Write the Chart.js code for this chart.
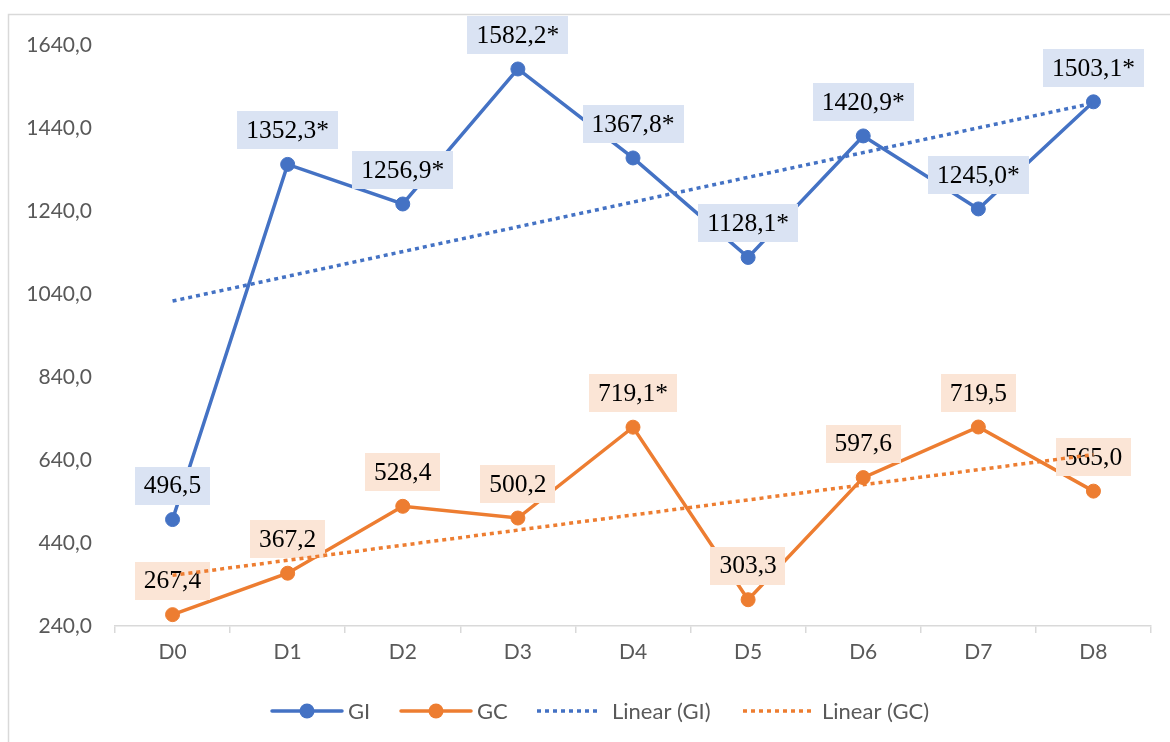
<!DOCTYPE html>
<html>
<head>
<meta charset="utf-8">
<script src="https://cdn.jsdelivr.net/npm/chart.js@4.4.1/dist/chart.umd.min.js"></script>
<style>
  html, body { margin: 0; padding: 0; background: #fff; }
  #wrap { position: relative; width: 1170px; height: 742px; }
</style>
</head>
<body>
<div id="wrap"><canvas id="c" width="1170" height="742"></canvas></div>
<script>
const categories = ['D0', 'D1', 'D2', 'D3', 'D4', 'D5', 'D6', 'D7', 'D8'];
const giValues = [496.5, 1352.3, 1256.9, 1582.2, 1367.8, 1128.1, 1420.9, 1245.0, 1503.1];
const gcValues = [267.4, 367.2, 528.4, 500.2, 719.1, 303.3, 597.6, 719.5, 565.0];
const giLabels = ['496,5', '1352,3*', '1256,9*', '1582,2*', '1367,8*', '1128,1*', '1420,9*', '1245,0*', '1503,1*'];
const gcLabels = ['267,4', '367,2', '528,4', '500,2', '719,1*', '303,3', '597,6', '719,5', '565,0'];
// Trendline endpoints (D0 and D8)
const giTrend = [1023, null, null, null, null, null, null, null, 1500];
const gcTrend = [362, null, null, null, null, null, null, null, 653];
const yTicks = [240, 440, 640, 840, 1040, 1240, 1440, 1640];
const legendNames = ['GI', 'GC', 'Linear (GI)', 'Linear (GC)'];

const BLUE = '#4472C4', ORANGE = '#ED7D31';
const BLUE_FILL = '#DAE3F3', ORANGE_FILL = '#FBE5D6';
const GREY_TXT = '#595959', GREY_LINE = '#D9D9D9';

let labelsDrawn = false;
function drawLabels(chart) {
  const ctx = chart.ctx;
  ctx.save();
  ctx.font = '25.5px "Liberation Serif", "Times New Roman", serif';
  ctx.textAlign = 'center';
  ctx.textBaseline = 'middle';
  const sets = [
    { idx: 0, texts: giLabels, fill: BLUE_FILL },
    { idx: 1, texts: gcLabels, fill: ORANGE_FILL }
  ];
  sets.forEach(s => {
    const meta = chart.getDatasetMeta(s.idx);
    meta.data.forEach((pt, i) => {
      const t = s.texts[i];
      const w = ctx.measureText(t).width + 18;
      const h = 38;
      const cx = pt.x, cy = pt.y - 34;
      ctx.fillStyle = s.fill;
      ctx.fillRect(Math.round(cx - w / 2), Math.round(cy - h / 2), Math.round(w), h);
      ctx.fillStyle = '#000';
      ctx.fillText(t, cx, cy + 1);
    });
  });
  ctx.restore();
}

const labelPlugin = {
  id: 'labelPlugin',
  beforeDatasetsDraw() { labelsDrawn = false; },
  beforeDatasetDraw(chart, args) {
    if (!labelsDrawn && args.index >= 2) { drawLabels(chart); labelsDrawn = true; }
  },
  afterDatasetsDraw(chart) {
    if (!labelsDrawn) { drawLabels(chart); labelsDrawn = true; }
  }
};

const framePlugin = {
  id: 'framePlugin',
  afterDraw(chart) {
    const ctx = chart.ctx;
    ctx.save();
    ctx.strokeStyle = GREY_LINE;
    ctx.lineWidth = 1.5;
    ctx.beginPath();
    ctx.moveTo(8.5, 760);
    ctx.lineTo(8.5, 14.5);
    ctx.lineTo(1180, 14.5);
    ctx.stroke();
    ctx.restore();
  }
};

const legendPlugin = {
  id: 'customLegend',
  afterDraw(chart) {
    const ctx = chart.ctx;
    ctx.save();
    const y = 711;
    ctx.font = '22px Lato, "Open Sans", sans-serif';
    ctx.textBaseline = 'middle';
    ctx.textAlign = 'left';
    const items = [
      { x0: 272, x1: 342, color: BLUE, dash: false, tx: 348 },
      { x0: 401, x1: 471, color: ORANGE, dash: false, tx: 477 },
      { x0: 537, x1: 600, color: BLUE, dash: true, tx: 612 },
      { x0: 743, x1: 813, color: ORANGE, dash: true, tx: 822 }
    ];
    items.forEach((it, i) => {
      ctx.strokeStyle = it.color;
      ctx.lineWidth = 3.5;
      ctx.setLineDash(it.dash ? [4, 4] : []);
      ctx.lineCap = it.dash ? 'butt' : 'round';
      ctx.beginPath();
      ctx.moveTo(it.x0, y);
      ctx.lineTo(it.x1, y);
      ctx.stroke();
      if (!it.dash) {
        ctx.fillStyle = it.color;
        ctx.beginPath();
        ctx.arc((it.x0 + it.x1) / 2, y, 7.5, 0, Math.PI * 2);
        ctx.fill();
      }
      ctx.fillStyle = GREY_TXT;
      ctx.fillText(legendNames[i], it.tx, y + 1);
    });
    ctx.restore();
  }
};

new Chart(document.getElementById('c'), {
  type: 'line',
  data: {
    labels: categories,
    datasets: [
      { label: legendNames[0], data: giValues, borderColor: BLUE, backgroundColor: BLUE, borderWidth: 3.5,
        pointRadius: 7, pointBorderWidth: 1, pointBackgroundColor: BLUE, pointBorderColor: BLUE, tension: 0, order: 1 },
      { label: legendNames[1], data: gcValues, borderColor: ORANGE, backgroundColor: ORANGE, borderWidth: 3.5,
        pointRadius: 7, pointBorderWidth: 1, pointBackgroundColor: ORANGE, pointBorderColor: ORANGE, tension: 0, order: 1 },
      { label: legendNames[2], data: giTrend, borderColor: BLUE, borderWidth: 3.5, borderDash: [4, 4],
        pointRadius: 0, spanGaps: true, tension: 0, order: 0 },
      { label: legendNames[3], data: gcTrend, borderColor: ORANGE, borderWidth: 3.5, borderDash: [4, 4],
        pointRadius: 0, spanGaps: true, tension: 0, order: 0 }
    ]
  },
  options: {
    responsive: false,
    animation: false,
    layout: { padding: { top: 45, right: 19, left: 0, bottom: 0 } },
    plugins: { legend: { display: false }, tooltip: { enabled: false } },
    scales: {
      x: {
        offset: true,
        grid: { display: true, drawOnChartArea: false, drawTicks: true, tickLength: 7, offset: true, color: GREY_LINE, lineWidth: 1.5 },
        border: { display: true, color: GREY_LINE, width: 1.5 },
        ticks: { color: GREY_TXT, font: { family: 'Lato, "Open Sans", sans-serif', size: 21 }, padding: 7 },
        afterFit(scale) { scale.height = 116; }
      },
      y: {
        min: 240, max: 1640,
        afterBuildTicks(scale) { scale.ticks = yTicks.map(v => ({ value: v })); },
        grid: { display: false, drawTicks: false, tickLength: 0 },
        border: { display: false },
        ticks: {
          color: GREY_TXT, font: { family: 'Lato, "Open Sans", sans-serif', size: 21 }, padding: 23,
          callback: v => v.toFixed(1).replace('.', ',')
        },
        afterFit(scale) { scale.width = 115; }
      }
    }
  },
  plugins: [labelPlugin, framePlugin, legendPlugin]
});
</script>
</body>
</html>
